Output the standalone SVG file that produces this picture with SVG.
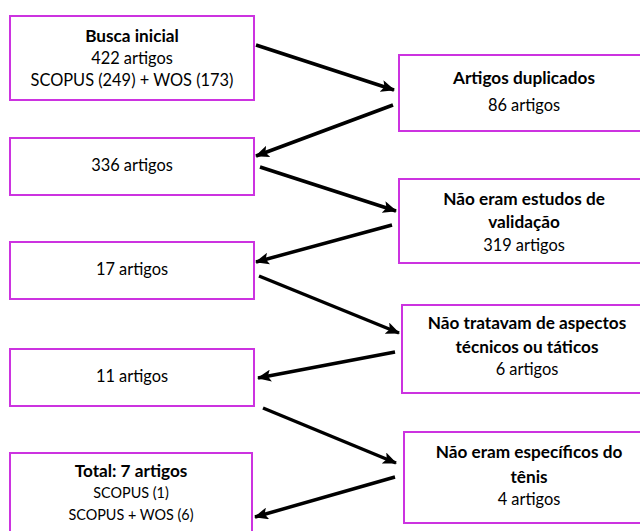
<svg xmlns="http://www.w3.org/2000/svg" width="640" height="531" viewBox="0 0 640 531">
<defs>
<marker id="ah" markerUnits="userSpaceOnUse" markerWidth="14" markerHeight="12" refX="13" refY="6" orient="auto">
<path d="M0,0 L14,6 L0,12 L3,6 Z" fill="#000"/>
</marker>
<style>
.box{fill:#fff;stroke:#CC33E0;stroke-width:2}
text{font-family:Lato,"Liberation Sans",sans-serif;font-size:16.4px;fill:#000;text-anchor:middle}
.b{font-weight:bold;font-size:17.2px}
.s{font-size:14.4px}
.c line{stroke:#000;stroke-width:3.5;marker-end:url(#ah)}
</style>
</defs>
<rect width="640" height="531" fill="#fff"/>
<g id="n1"><rect class="box" x="10" y="16" width="244" height="84"/>
<text class="b" x="132" y="42">Busca inicial</text>
<text x="132" y="64">422 artigos</text>
<text x="132" y="86">SCOPUS (249) + WOS (173)</text></g>
<g id="n2"><rect class="box" x="399" y="55" width="250" height="76"/>
<text class="b" x="524" y="84">Artigos duplicados</text>
<text x="524" y="111">86 artigos</text></g>
<g id="n3"><rect class="box" x="10" y="138" width="244" height="57"/>
<text x="132" y="171">336 artigos</text></g>
<g id="n4"><rect class="box" x="399" y="179" width="250" height="84"/>
<text class="b" x="524" y="205">Não eram estudos de</text>
<text class="b" x="524" y="228">validação</text>
<text x="524" y="251">319 artigos</text></g>
<g id="n5"><rect class="box" x="10" y="242" width="244" height="57"/>
<text x="132" y="275">17 artigos</text></g>
<g id="n6"><rect class="box" x="402" y="305" width="250" height="88"/>
<text class="b" x="527" y="329">Não tratavam de aspectos</text>
<text class="b" x="527" y="353">técnicos ou táticos</text>
<text x="527" y="375">6 artigos</text></g>
<g id="n7"><rect class="box" x="10" y="349" width="244" height="57"/>
<text x="132" y="382">11 artigos</text></g>
<g id="n8"><rect class="box" x="404" y="432" width="250" height="91"/>
<text class="b" x="529" y="458">Não eram específicos do</text>
<text class="b" x="529" y="483">tênis</text>
<text x="529" y="505">4 artigos</text></g>
<g id="n9"><rect class="box" x="10" y="453" width="242" height="90"/>
<text class="b" x="131" y="477">Total: 7 artigos</text>
<text class="s" x="131" y="498">SCOPUS (1)</text>
<text class="s" x="131" y="520">SCOPUS + WOS (6)</text></g>
<g id="connectors" class="c">
<line x1="256" y1="45" x2="394" y2="90"/>
<line x1="393" y1="105" x2="256" y2="156"/>
<line x1="260" y1="167" x2="396" y2="211"/>
<line x1="392" y1="225" x2="256" y2="262"/>
<line x1="259" y1="276" x2="399" y2="333"/>
<line x1="395" y1="352" x2="258" y2="378"/>
<line x1="263" y1="408" x2="396" y2="463"/>
<line x1="395" y1="477" x2="255" y2="517"/>
</g>
</svg>
